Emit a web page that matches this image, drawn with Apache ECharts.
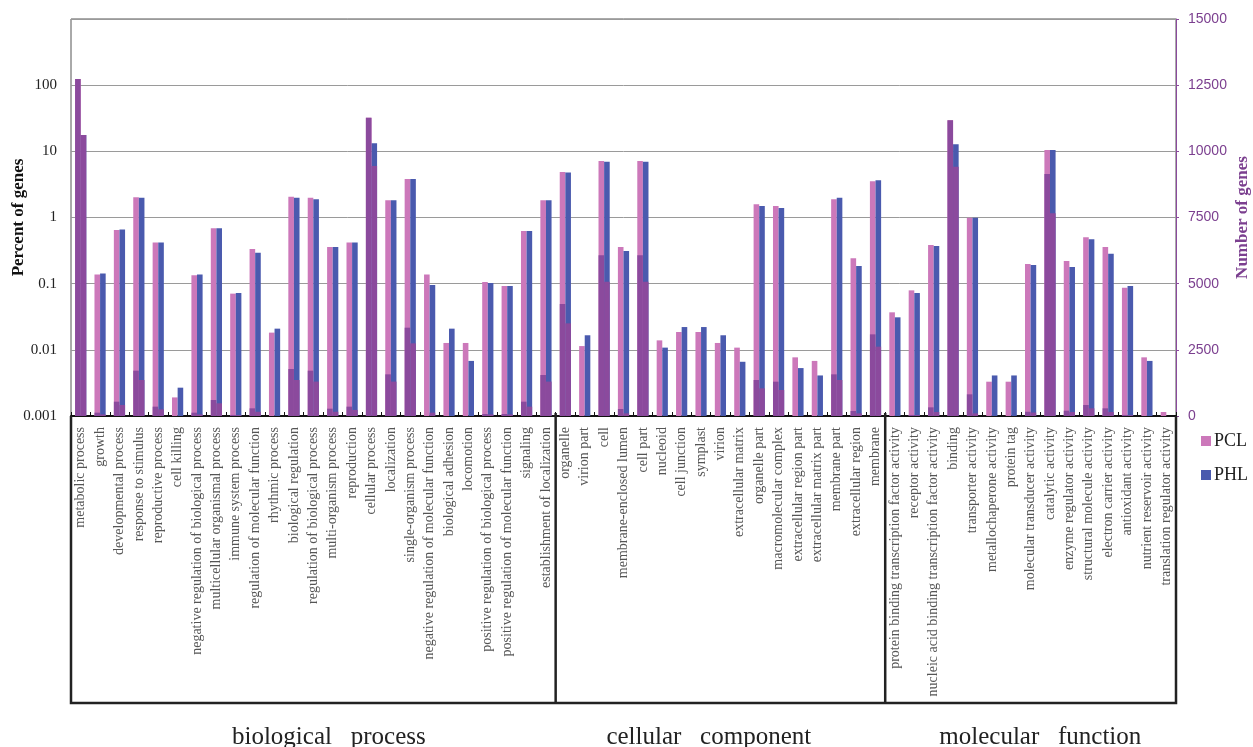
<!DOCTYPE html>
<html>
<head>
<meta charset="utf-8">
<script src="https://cdn.jsdelivr.net/npm/echarts@6/dist/echarts.min.js"></script>
<style>
  html, body { margin: 0; padding: 0; background: #fff; }
  #chart { width: 1253px; height: 747px; }
</style>
</head>
<body>
<div id="chart"></div>
<script>
// GO term categories, in plotting order
const categories = [
  'metabolic process', 'growth', 'developmental process', 'response to stimulus',
  'reproductive process', 'cell killing', 'negative regulation of biological process',
  'multicellular organismal process', 'immune system process', 'regulation of molecular function',
  'rhythmic process', 'biological regulation', 'regulation of biological process',
  'multi-organism process', 'reproduction', 'cellular process', 'localization',
  'single-organism process', 'negative regulation of molecular function', 'biological adhesion',
  'locomotion', 'positive regulation of biological process', 'positive regulation of molecular function',
  'signaling', 'establishment of localization',
  'organelle', 'virion part', 'cell', 'membrane-enclosed lumen', 'cell part', 'nucleoid',
  'cell junction', 'symplast', 'virion', 'extracellular matrix', 'organelle part',
  'macromolecular complex', 'extracellular region part', 'extracellular matrix part',
  'membrane part', 'extracellular region', 'membrane',
  'protein binding transcription factor activity', 'receptor activity',
  'nucleic acid binding transcription factor activity', 'binding', 'transporter activity',
  'metallochaperone activity', 'protein tag', 'molecular transducer activity',
  'catalytic activity', 'enzyme regulator activity', 'structural molecule activity',
  'electron carrier activity', 'antioxidant activity', 'nutrient reservoir activity',
  'translation regulator activity'
];

// Ontology groups (name, number of terms)
const groupNames = ['biological   process', 'cellular   component', 'molecular   function'];
const groupSizes = [25, 17, 15];

// Percent of genes (left, log scale)
const pclPercent = [
  124, 0.138, 0.647, 2.02, 0.42, 0.00191, 0.134, 0.69, 0.0707, 0.334, 0.0182, 2.05, 1.995,
  0.358, 0.42, 32.3, 1.82, 3.82, 0.138, 0.0127, 0.0127, 0.106, 0.0923, 0.625, 1.82,
  4.87, 0.0114, 7.14, 0.358, 7.14, 0.0139, 0.0186, 0.0186, 0.0127, 0.0108, 1.58, 1.49,
  0.0077, 0.0068, 1.88, 0.2415, 3.52,
  0.0369, 0.0792, 0.384, 29.4, 0.994, 0.0033, 0.0033, 0.198, 10.5, 0.22, 0.501, 0.358,
  0.087, 0.0077, 0.00115
];
const phlPercent = [
  17.7, 0.143, 0.66, 1.99, 0.42, 0.00268, 0.137, 0.69, 0.0722, 0.294, 0.0209, 1.995, 1.88,
  0.358, 0.42, 13.2, 1.82, 3.82, 0.0955, 0.0209, 0.0068, 0.1025, 0.0923, 0.625, 1.82,
  4.77, 0.0166, 6.96, 0.312, 6.96, 0.0108, 0.0221, 0.0221, 0.0166, 0.0066, 1.49, 1.39,
  0.0053, 0.0041, 1.99, 0.185, 3.66,
  0.031, 0.0722, 0.37, 12.8, 0.994, 0.0041, 0.0041, 0.191, 10.5, 0.179, 0.47, 0.284,
  0.0923, 0.0068, null
];

// Number of genes (right, linear scale)
const pclGenes = [
  12733, 126, 541, 1713, 353, 0, 126, 605, 40, 290, 0, 1776, 1713,
  277, 353, 11272, 1574, 3337, 0, 0, 0, 75, 75, 541, 1549,
  4232, 0, 6070, 264, 6070, 0, 0, 0, 0, 0, 1360, 1297,
  0, 0, 1574, 189, 3085,
  0, 40, 327, 11171, 819, 0, 0, 160, 9143, 200, 416, 290,
  40, 0, 0
];
const phlGenes = [
  10617, 60, 415, 1360, 252, 0, 60, 480, 30, 160, 0, 1360, 1300,
  160, 230, 9446, 1300, 2745, 126, 0, 0, 60, 60, 353, 1300,
  3501, 0, 5075, 100, 5075, 0, 0, 0, 0, 0, 1045, 982,
  0, 0, 1360, 100, 2620,
  0, 30, 150, 9420, 100, 0, 0, 130, 7657, 150, 290, 150,
  30, 0, 0
];

// Tick labels of the percent axis, one per decade from 0.001 upward
const percentTickLabels = ['0.001', '0.01', '0.1', '1', '10', '100', ''];

const COLORS = { pcl: '#CC78BA', phl: '#4A5AAE', genes: '#8B4A9D' };
const SERIF = '"Liberation Serif", "Times New Roman", serif';
const GRID = { left: 71, top: 19, right: 77, bottom: 331 };
const BAR_W = 5.6;
// where each group title sits, in category-band units from the left edge
const GROUP_TITLE_AT = [13.3, 32.9, 50.0];

const chart = echarts.init(document.getElementById('chart'), null, { renderer: 'canvas' });

const option = {
  backgroundColor: '#fff',
  animation: false,
  grid: Object.assign({
    show: true, borderColor: '#555', borderWidth: 1,
    containLabel: false, outerBoundsMode: 'none'
  }, GRID),
  legend: {
    orient: 'vertical',
    left: 1196,
    top: 427,
    itemWidth: 10,
    itemHeight: 10,
    itemGap: 16,
    icon: 'rect',
    data: ['PCL', 'PHL'],
    textStyle: { fontFamily: SERIF, fontSize: 18, color: '#222', padding: [0, 0, 0, -2] }
  },
  xAxis: [
    {
      type: 'category',
      data: categories,
      position: 'bottom',
      axisLine: { show: true, lineStyle: { color: '#111', width: 2 } },
      axisTick: { show: true, inside: true, length: 4, lineStyle: { color: '#111', width: 1 } },
      axisLabel: {
        interval: 0,
        rotate: 90,
        margin: 11,
        fontFamily: SERIF,
        fontSize: 14,
        color: '#555'
      },
      splitLine: { show: false }
    },
    {
      type: 'category',
      data: categories,
      show: false
    }
  ],
  yAxis: [
    {
      type: 'log',
      logBase: 10,
      min: 0.001,
      max: 1000,
      splitNumber: 6,
      startValue: 0.001,
      position: 'left',
      name: 'Percent of genes',
      nameLocation: 'middle',
      nameRotate: 90,
      nameGap: 44,
      nameMoveOverlap: false,
      nameTextStyle: { fontFamily: SERIF, fontSize: 17, fontWeight: 'bold', color: '#111' },
      axisLine: { show: false },
      axisTick: { show: false },
      axisLabel: {
        margin: 14,
        fontFamily: SERIF,
        fontSize: 15,
        color: '#222',
        formatter: function (v) {
          const i = Math.round(Math.log10(v)) + 3;
          return percentTickLabels[i] !== undefined ? percentTickLabels[i] : '';
        }
      },
      splitLine: { show: true, lineStyle: { color: '#9a9a9a', width: 1 } }
    },
    {
      type: 'value',
      min: 0,
      max: 15000,
      interval: 2500,
      position: 'right',
      name: 'Number of genes',
      nameLocation: 'middle',
      nameRotate: 90,
      nameGap: 58,
      nameMoveOverlap: false,
      nameTextStyle: { fontFamily: SERIF, fontSize: 17, fontWeight: 'bold', color: '#7B3F8F' },
      axisLine: { show: true, lineStyle: { color: '#8B4A9D', width: 1 } },
      axisTick: { show: true, length: 3, lineStyle: { color: '#8B4A9D' } },
      axisLabel: {
        margin: 12,
        fontFamily: '"Liberation Sans", Arial, sans-serif',
        fontSize: 14,
        color: '#7B3F8F',
        formatter: function (v) { return String(v); }
      },
      splitLine: { show: false }
    }
  ],
  series: [
    {
      name: 'PCL', type: 'bar', xAxisIndex: 0, yAxisIndex: 0,
      data: pclPercent, barWidth: BAR_W, barGap: '0%',
      itemStyle: { color: COLORS.pcl }, z: 2
    },
    {
      name: 'PHL', type: 'bar', xAxisIndex: 0, yAxisIndex: 0,
      data: phlPercent, barWidth: BAR_W, barGap: '0%',
      itemStyle: { color: COLORS.phl }, z: 2
    },
    {
      name: 'PCL genes', type: 'bar', xAxisIndex: 1, yAxisIndex: 1,
      data: pclGenes, barWidth: BAR_W, barGap: '0%',
      itemStyle: { color: COLORS.genes }, z: 3
    },
    {
      name: 'PHL genes', type: 'bar', xAxisIndex: 1, yAxisIndex: 1,
      data: phlGenes, barWidth: BAR_W, barGap: '0%',
      itemStyle: { color: COLORS.genes }, z: 3
    }
  ]
};

chart.setOption(option);

// Bracket box under the category labels with the ontology group names
function drawGroups() {
  const W = chart.getWidth();
  const H = chart.getHeight();
  const x0 = GRID.left;
  const x1 = W - GRID.right;
  const yAxisY = H - GRID.bottom;
  const yBox = 703;
  const band = (x1 - x0) / categories.length;
  const lineStyle = { stroke: '#222', lineWidth: 2.5 };
  const elements = [];

  // outer frame
  elements.push({
    type: 'polyline',
    shape: { points: [[x0, yAxisY], [x0, yBox], [x1, yBox], [x1, yAxisY]] },
    style: Object.assign({ fill: null }, lineStyle),
    z: 10
  });

  let start = 0;
  groupSizes.forEach(function (n, gi) {
    const gx0 = x0 + start * band;
    if (gi > 0) {
      elements.push({
        type: 'line',
        shape: { x1: gx0, y1: yAxisY - 3, x2: gx0, y2: yBox },
        style: lineStyle,
        z: 10
      });
    }
    elements.push({
      type: 'text',
      x: x0 + GROUP_TITLE_AT[gi] * band,
      y: 737,
      style: {
        text: groupNames[gi],
        fontFamily: SERIF,
        fontSize: 25,
        fill: '#222',
        align: 'center',
        verticalAlign: 'middle'
      },
      z: 10
    });
    start += n;
  });

  chart.setOption({ graphic: { elements: elements } });
}
drawGroups();
</script>
</body>
</html>
